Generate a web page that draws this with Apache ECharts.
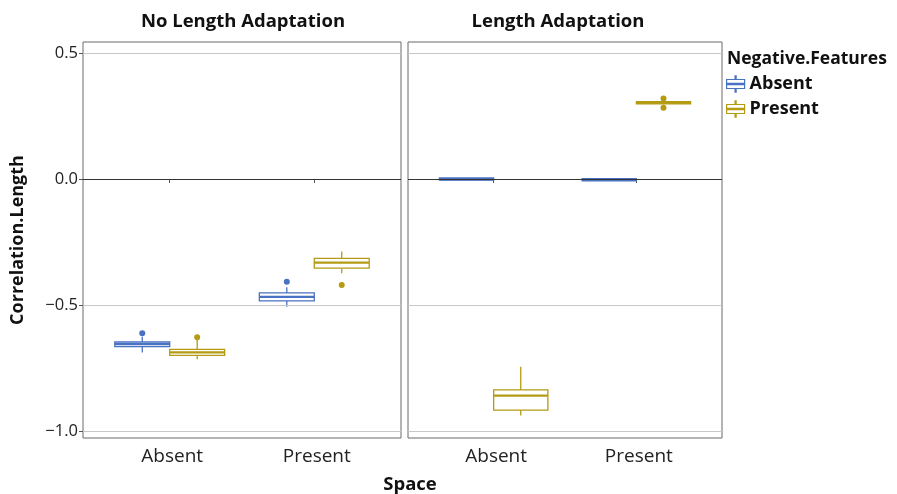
<!DOCTYPE html>
<html><head><meta charset="utf-8">
<script src="https://cdn.jsdelivr.net/npm/echarts@6/dist/echarts.min.js"></script>
<style>html,body{margin:0;padding:0;background:#fff}#c{width:897px;height:494px}</style>
</head><body><div id="c"></div>
<script>
const categories = ['Absent', 'Present'];
const panels = ['No Length Adaptation', 'Length Adaptation'];
const groups = ['Absent', 'Present'];
const yTicks = [-1.0, -0.5, 0.0, 0.5];
// [lo, q1, median, q3, hi] per Space category
const noLenAbsent  = [[-0.689, -0.665, -0.655, -0.647, -0.626], [-0.507, -0.484, -0.468, -0.452, -0.430]];
const noLenPresent = [[-0.715, -0.700, -0.688, -0.676, -0.639], [-0.374, -0.354, -0.332, -0.315, -0.288]];
const lenAbsent    = [[-0.003, -0.002, 0.000, 0.002, 0.003], [-0.005, -0.004, -0.003, -0.002, -0.001]];
const lenPresent   = [[-0.939, -0.917, -0.860, -0.837, -0.745], [0.297, 0.300, 0.303, 0.306, 0.309]];
// outliers: [categoryIndex, value]
const noLenAbsentOut  = [[0, -0.612], [1, -0.408]];
const noLenPresentOut = [[0, -0.628], [1, -0.421]];
const lenAbsentOut    = [];
const lenPresentOut   = [[1, 0.320], [1, 0.283]];

const colors = ['#4a72c2', '#b39c14'];
const DODGE = 0.19, BOXW = 0.38;
const FONT = 'Open Sans';

const boxSets = [[noLenAbsent, noLenPresent], [lenAbsent, lenPresent]];
const outSets = [[noLenAbsentOut, noLenPresentOut], [lenAbsentOut, lenPresentOut]];

function renderBox(params, api) {
  const x = api.value(0);
  const lo = api.value(1), q1 = api.value(2), med = api.value(3), q3 = api.value(4), hi = api.value(5);
  const w = api.size([BOXW, 0])[0];
  const pHi = api.coord([x, hi]), pQ3 = api.coord([x, q3]), pQ1 = api.coord([x, q1]), pLo = api.coord([x, lo]), pM = api.coord([x, med]);
  const col = api.visual('color');
  const st = {stroke: col, lineWidth: 1.3, fill: null};
  const h = pQ1[1] - pQ3[1];
  const hh = Math.max(h, 2.2);
  const yTop = h < 2.2 ? (pQ1[1] + pQ3[1]) / 2 - hh / 2 : pQ3[1];
  return {type: 'group', children: [
    {type: 'line', shape: {x1: pHi[0], y1: pHi[1], x2: pQ3[0], y2: pQ3[1]}, style: st},
    {type: 'line', shape: {x1: pQ1[0], y1: pQ1[1], x2: pLo[0], y2: pLo[1]}, style: st},
    {type: 'rect', shape: {x: pQ3[0] - w / 2, y: yTop, width: w, height: hh}, style: {stroke: col, lineWidth: 1.3, fill: h < 2.2 ? col : '#fff'}},
    {type: 'line', shape: {x1: pM[0] - w / 2, y1: pM[1], x2: pM[0] + w / 2, y2: pM[1]}, style: {stroke: col, lineWidth: 2.2}}
  ]};
}

const grids = [
  {left: 83, top: 42, width: 318, height: 396, show: true, borderColor: '#6b6b6b', borderWidth: 1, backgroundColor: '#fff'},
  {left: 408, top: 42, width: 314, height: 396, show: true, borderColor: '#6b6b6b', borderWidth: 1, backgroundColor: '#fff'}
];
const xAxes = [0, 1].map(i => ({
  type: 'value', gridIndex: i, min: 0.4, max: 2.6,
  axisLine: {show: false}, splitLine: {show: false},
  axisTick: {show: true, customValues: [1, 2], length: 4, lineStyle: {color: '#555'}},
  axisLabel: {customValues: [1, 2], formatter: v => categories[Math.round(v) - 1], color: '#222', fontSize: 19, fontFamily: FONT, margin: 9, padding: [0, 0, 0, 5]}
}));
const yAxes = [0, 1].map(i => ({
  type: 'value', gridIndex: i, min: -1.028, max: 0.544,
  axisLine: {show: false}, splitLine: {show: false},
  axisTick: {show: i === 0, customValues: yTicks, length: 4, lineStyle: {color: '#555'}},
  axisLabel: {show: i === 0, customValues: yTicks, formatter: v => (v < 0 ? '\u2212' : '') + Math.abs(v).toFixed(1), color: '#222', fontSize: 16.5, fontFamily: FONT, margin: 5},
  name: i === 0 ? 'Correlation.Length' : '', nameLocation: 'middle', nameRotate: 90, nameGap: 56,
  nameTextStyle: {fontSize: 18, fontWeight: 'bold', fontFamily: FONT, color: '#111'}
}));

const series = [];
for (let p = 0; p < 2; p++) {
  // gridlines
  series.push({
    type: 'line', xAxisIndex: p, yAxisIndex: p, data: [], silent: true,
    markLine: {symbol: 'none', silent: true, label: {show: false},
      data: yTicks.map(v => ({yAxis: v, lineStyle: {color: v === 0 ? '#333' : '#c8c8c8', width: 1, type: 'solid'}}))}
  });
  for (let g = 0; g < 2; g++) {
    const arr = boxSets[p][g];
    series.push({
      name: groups[g], type: 'custom', xAxisIndex: p, yAxisIndex: p, z: 3,
      itemStyle: {color: colors[g]}, color: colors[g],
      renderItem: renderBox,
      data: arr.map((d, i) => [i + 1 + (g === 0 ? -DODGE : DODGE)].concat(d)),
      encode: {x: 0, y: [1, 2, 3, 4, 5]}
    });
    series.push({
      name: groups[g], type: 'scatter', xAxisIndex: p, yAxisIndex: p, z: 4,
      symbolSize: 6, itemStyle: {color: colors[g], opacity: 1},
      data: outSets[p][g].map(o => [o[0] + 1 + (g === 0 ? -DODGE : DODGE), o[1]])
    });
  }
}

const legendIcon = 'path://M0,4 L20,4 L20,14 L0,14 Z M0,8.2 L20,8.2 L20,9.8 L0,9.8 Z M9.4,0 L10.6,0 L10.6,4 L9.4,4 Z M9.4,14 L10.6,14 L10.6,18 L9.4,18 Z';

const chart = echarts.init(document.getElementById('c'), null, {renderer: 'canvas'});
chart.setOption({
  animation: false,
  backgroundColor: '#fff',
  title: [
    {text: panels[0], left: 243, top: 12, padding: 0, textAlign: 'center', textStyle: {fontSize: 18.5, fontWeight: 'bold', fontFamily: FONT, color: '#111'}},
    {text: panels[1], left: 558, top: 12, padding: 0, textAlign: 'center', textStyle: {fontSize: 18.5, fontWeight: 'bold', fontFamily: FONT, color: '#111'}},
    {text: 'Space', left: 410, top: 475, padding: 0, textAlign: 'center', textStyle: {fontSize: 18.5, fontWeight: 'bold', fontFamily: FONT, color: '#111'}},
    {text: 'Negative.Features', left: 727, top: 50, padding: 0, textStyle: {fontSize: 17.5, fontWeight: 'bold', fontFamily: FONT, color: '#111'}}
  ],
  legend: {
    orient: 'vertical', left: 726, top: 75, padding: 0, itemGap: 7, itemWidth: 18, itemHeight: 17,
    textStyle: {fontSize: 18, fontWeight: 'bold', fontFamily: FONT, color: '#111', padding: [0, 0, 0, 0]},
    data: groups.map((g, i) => ({name: g, icon: legendIcon, itemStyle: {color: '#fff', borderColor: colors[i], borderWidth: 1.2}}))
  },
  grid: grids, xAxis: xAxes, yAxis: yAxes, series: series
});
</script></body></html>
